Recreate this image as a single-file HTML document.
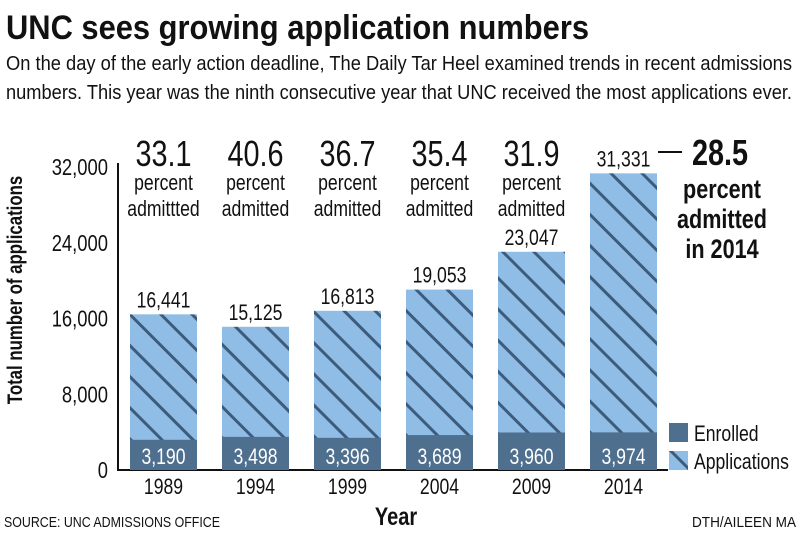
<!DOCTYPE html>
<html><head><meta charset="utf-8"><style>
body{margin:0;background:#fff;}
svg{display:block;font-family:"Liberation Sans Narrow","Liberation Sans",sans-serif;}
</style></head><body>
<svg id="chart" width="800" height="534" viewBox="0 0 800 534">
<defs>
<pattern id="hatch" patternUnits="userSpaceOnUse" width="22" height="22" patternTransform="rotate(-45)">
<rect width="22" height="22" fill="#8fbde6"/>
<rect x="0" y="0" width="3" height="22" fill="#3d5c7c"/>
</pattern>
</defs>
<text x="6" y="39" font-size="34" font-weight="bold" textLength="583" lengthAdjust="spacingAndGlyphs" fill="#111">UNC sees growing application numbers</text>
<text x="6" y="70" font-size="20" textLength="786" lengthAdjust="spacingAndGlyphs" fill="#111">On the day of the early action deadline, The Daily Tar Heel examined trends in recent admissions</text>
<text x="6" y="99" font-size="20" textLength="786" lengthAdjust="spacingAndGlyphs" fill="#111">numbers. This year was the ninth consecutive year that UNC received the most applications ever.</text>
<text transform="translate(22,290) rotate(-90)" text-anchor="middle" font-size="21" font-weight="bold" fill="#111">Total number of applications</text>
<text x="396" y="525" text-anchor="middle" font-size="25" font-weight="bold" fill="#111">Year</text>
<text x="4" y="527" font-size="15" textLength="216" lengthAdjust="spacingAndGlyphs" fill="#111">SOURCE: UNC ADMISSIONS OFFICE</text>
<text x="796" y="527" text-anchor="end" font-size="15" textLength="104" lengthAdjust="spacingAndGlyphs" fill="#111">DTH/AILEEN MA</text>
<g id="plot"></g>
<g>
<rect x="669" y="423" width="19" height="19" fill="#4f6f8f"/>
<text x="694" y="441" font-size="22" fill="#111">Enrolled</text>
<rect x="669" y="451" width="19" height="19" fill="url(#hatch)"/>
<text x="694" y="469" font-size="22" fill="#111">Applications</text>
</g>
</svg>
<script>
const years = ["1989","1994","1999","2004","2009","2014"];
const applications = [16441,15125,16813,19053,23047,31331];
const enrolled = [3190,3498,3396,3689,3960,3974];
const percentAdmitted = ["33.1","40.6","36.7","35.4","31.9","28.5"];
const yTicks = [0,8000,16000,24000,32000];
const NS="http://www.w3.org/2000/svg";
const plot=document.getElementById('plot');
const y0=470, yTop=167, vMax=32000;
const y=v=>y0-(v/vMax)*(y0-yTop);
const x=i=>130+i*92;
const bw=67;
function mk(tag,attrs,txt){const e=document.createElementNS(NS,tag);for(const k in attrs)e.setAttribute(k,attrs[k]);if(txt!==undefined)e.textContent=txt;plot.appendChild(e);return e;}
const ax=mk('line',{x1:118,y1:163,x2:118,y2:y0,stroke:'#111','stroke-width':2});


const bx=mk('line',{x1:117,y1:y0,x2:668,y2:y0,stroke:'#111','stroke-width':2});


yTicks.forEach(t=>{
 const e=mk('text',{x:108,y:y(t)+8,'text-anchor':'end','font-size':23,fill:'#111'},t.toLocaleString('en-US'));
 
 
});
years.forEach((yr,i)=>{
 const xl=x(i), cx=xl+bw/2;
 const a=mk('rect',{x:xl,y:y(applications[i]),width:bw,height:y0-y(applications[i]),fill:'url(#hatch)'});
 
 
 const en=mk('rect',{x:xl,y:y(enrolled[i]),width:bw,height:y0-y(enrolled[i]),fill:'#4f6f8f'});
 
 
 const el=mk('text',{x:cx,y:y0-6,'text-anchor':'middle','font-size':22,fill:'#fff'},enrolled[i].toLocaleString('en-US'));
 
 
 const al=mk('text',{x:cx,y:y(applications[i])-7,'text-anchor':'middle','font-size':22,fill:'#111'},applications[i].toLocaleString('en-US'));
 
 
 const xt=mk('text',{x:cx,y:y0+24,'text-anchor':'middle','font-size':22,fill:'#111'},yr);
 
 
 if(i<years.length-1){
  const p=mk('text',{x:cx,y:166,'text-anchor':'middle','font-size':36,fill:'#111'},percentAdmitted[i]);
  
  
  const p2=mk('text',{x:cx,y:190,'text-anchor':'middle','font-size':22,fill:'#111'},'percent');
  
  
  const p3=mk('text',{x:cx,y:216,'text-anchor':'middle','font-size':22,fill:'#111'},i===0?'admittted':'admitted');
  
  
 }
});
const last=years.length-1;
const ln=mk('line',{x1:658,y1:152,x2:682,y2:152,stroke:'#111','stroke-width':2});


const c1=mk('text',{x:720,y:165,'text-anchor':'middle','font-size':36,'font-weight':'bold',fill:'#111'},percentAdmitted[last]);


['percent','admitted','in '+years[last]].forEach((t,k)=>{
 const e=mk('text',{x:722,y:198+k*30,'text-anchor':'middle','font-size':27,'font-weight':'bold',fill:'#111'},t);
 
 
});
// condense text to mimic a narrow typeface
document.querySelectorAll('#chart text').forEach(t=>{
 if(t.hasAttribute('textLength'))return;
 const w=t.getComputedTextLength();
 t.setAttribute('textLength',(w*0.8).toFixed(1));
 t.setAttribute('lengthAdjust','spacingAndGlyphs');
});
</script>
</body></html>
